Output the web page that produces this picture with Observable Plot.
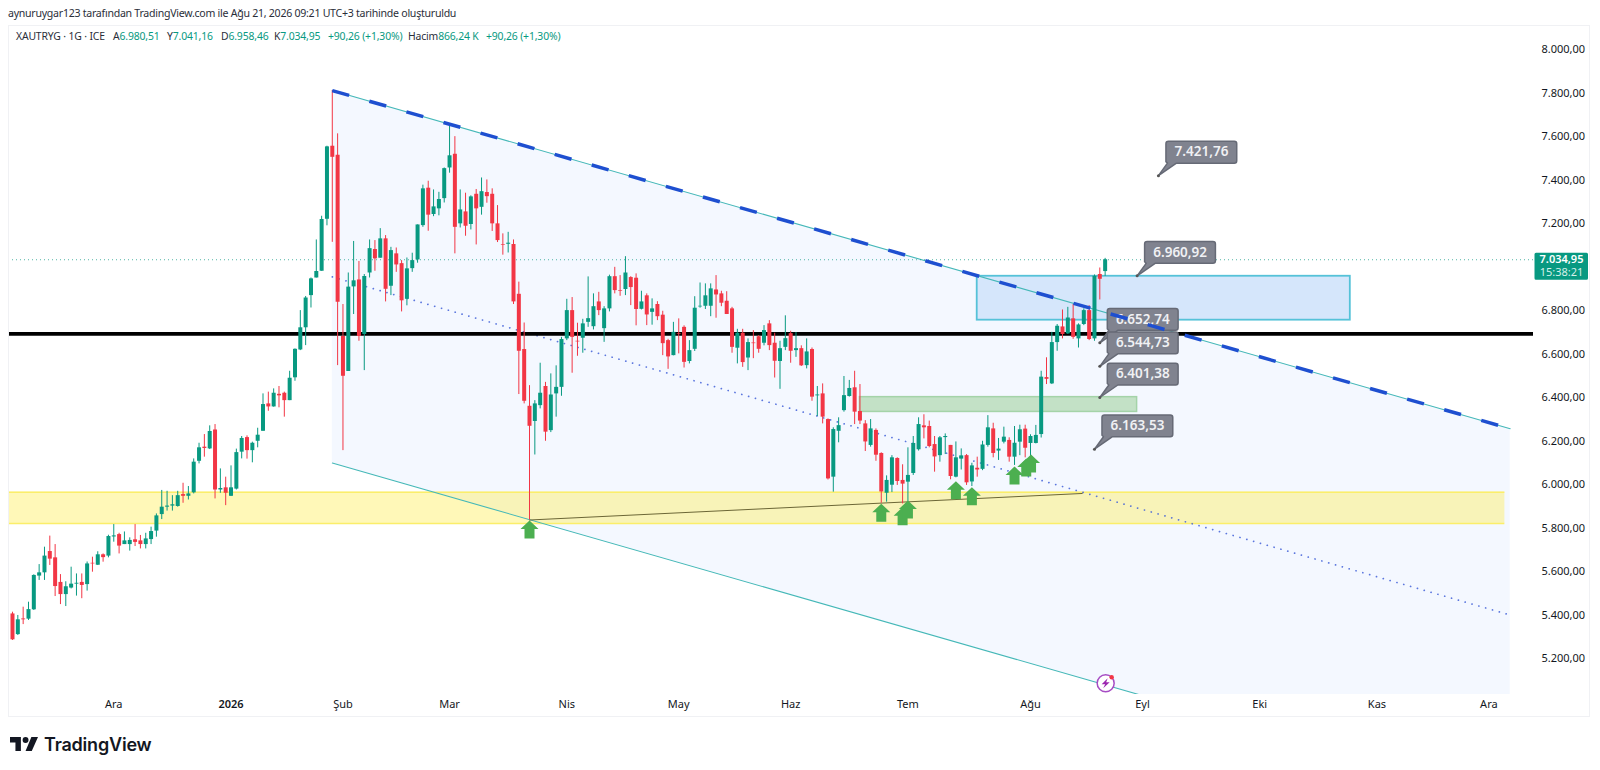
<!DOCTYPE html>
<html lang="tr">
<head>
<meta charset="utf-8">
<script src="https://cdn.jsdelivr.net/npm/d3@7"></script>
<script src="https://cdn.jsdelivr.net/npm/@observablehq/plot@0.6"></script>
<style>
html,body{margin:0;padding:0;background:#fff;overflow:hidden}
body{width:1600px;height:770px;position:relative;font-family:"Noto Sans",sans-serif;color:#131722}
#head{height:25px;font-size:10.6px;line-height:26px;padding-left:8px;color:#2a2e39;white-space:nowrap;letter-spacing:-.27px}
#legend{position:absolute;left:0;top:29px;font-size:10.4px;line-height:14px;white-space:nowrap;color:#2a2e39;z-index:2;letter-spacing:-.15px}
#legend b{font-weight:400;color:#089981}
#legend span{position:absolute;top:0}
#box{position:absolute;left:8px;top:25px;width:1582px;height:692px;border:1px solid #f0f1f4;box-sizing:border-box;pointer-events:none}
#foot{position:absolute;left:10px;top:733px;height:22px;display:flex;align-items:center;gap:6px}
#foot span{font-family:Inter,sans-serif;font-weight:600;font-size:18px;letter-spacing:-.2px;color:#131722}
svg{display:block}
</style>
</head>
<body>
<div id="head">aynuruygar123 tarafından TradingView.com ile Ağu 21, 2026 09:21 UTC+3 tarihinde oluşturuldu</div>
<div id="legend"><span style="left:16px">XAUTRYG · 1G · ICE</span><span style="left:113px">A<b>6.980,51</b></span><span style="left:167px">Y<b>7.041,16</b></span><span style="left:221px">D<b>6.958,46</b></span><span style="left:274px">K<b>7.034,95</b></span><span style="left:328px"><b>+90,26 (+1,30%)</b></span><span style="left:408px">Hacim<b>866,24 K</b></span><span style="left:486px"><b>+90,26 (+1,30%)</b></span></div>
<div id="chart"></div>
<div id="box"></div>
<div id="foot"><svg width="28" height="14" viewBox="0 0 36 18"><path fill="#131722" d="M14 0H0v7h7v11h7zM28 18h-8L27.500 0H36z"/><circle fill="#131722" cx="20" cy="3.800" r="3.800"/></svg><span>TradingView</span></div>
<script>
const opens=[5406,5311,5383,5382,5425,5580,5595,5693,5664,5551,5495,5525,5543,5551,5541,5639,5630,5678,5672,5760,
5771,5725,5725,5747,5742,5725,5748,5787,5863,5897,5902,5900,5955,5947,5963,6108,6173,6165,6252,5976,
5986,5947,5980,6150,6217,6157,6200,6246,6372,6358,6416,6421,6387,6492,6620,6722,6870,6951,6982,7221,
7557,7516,6682,6521,6910,6942,6691,6974,7082,7042,7131,6913,7062,7017,6853,6994,7034,7192,7364,7243,
7269,7316,7457,7520,7200,7255,7197,7336,7276,7344,7336,7200,7105,7106,7105,6876,6622,6361,6291,6364,
6452,6249,6418,6448,6671,6801,6660,6674,6747,6727,6841,6718,6809,6957,6893,6898,6953,6950,6807,6869,
6793,6829,6780,6663,6594,6694,6724,6567,6623,6818,6821,6821,6896,6878,6844,6809,6628,6697,6583,6652,
6681,6651,6740,6651,6567,6632,6695,6617,6626,6548,6622,6409,6418,6300,6035,6246,6341,6406,6446,6337,
6280,6181,6250,6144,5961,5998,6121,6020,6012,6052,6161,6271,6268,6185,6134,6217,6181,6035,6118,6134,
6013,6076,6071,6181,6257,6155,6196,6204,6127,6196,6256,6190,6190,6231,6493,6464,6654,6726,6694,6763,
6671,6737,6801,6671,6967,6980.51];
const highs=[5414,5399,5437,5460,5586,5633,5713,5764,5725,5587,5554,5621,5590,5590,5645,5667,5692,5682,5768,5817,
5777,5783,5756,5817,5767,5777,5805,5866,5974,5970,5950,5970,6007,5992,6119,6191,6231,6271,6277,6073,
6035,6087,6164,6222,6225,6196,6260,6418,6426,6441,6452,6426,6522,6625,6801,6866,6951,7126,7235,7557,
7813,7614,6829,6974,7119,7027,6967,7126,7123,7178,7146,7092,7089,7031,7043,7065,7195,7378,7396,7356,
7345,7457,7652,7601,7356,7341,7329,7358,7411,7402,7361,7284,7154,7161,7126,6932,6744,6456,6387,6559,
6471,6510,6547,6678,6853,6861,6743,6761,6956,6878,6885,6819,6964,7000,6962,7049,6957,6970,6890,6878,
6855,6842,6798,6669,6747,6763,6731,6663,6865,6928,6924,6924,6962,6890,6888,6816,6715,6715,6671,6709,
6686,6732,6755,6697,6660,6777,6706,6700,6639,6671,6629,6452,6464,6303,6262,6308,6498,6480,6522,6461,
6295,6300,6257,6147,6041,6134,6124,6092,6170,6222,6308,6322,6293,6222,6222,6234,6181,6197,6165,6139,
6099,6127,6200,6318,6283,6213,6265,6216,6268,6274,6274,6230,6273,6522,6584,6701,6737,6804,6816,6829,
6740,6809,6824,6965,6997,7041.16];
const lows=[5284,5307,5357,5376,5422,5560,5560,5629,5486,5449,5440,5521,5488,5476,5511,5598,5629,5644,5664,5736,
5682,5725,5695,5716,5705,5705,5725,5759,5840,5879,5879,5897,5915,5930,5958,6096,6127,6162,5935,5961,
5904,5946,5976,6119,6118,6101,6170,6246,6338,6357,6354,6311,6387,6476,6617,6640,6813,6951,6982,7191,
7115,6548,6157,6521,6783,6660,6525,6951,6982,7042,6841,6870,6977,6795,6823,6977,7019,7184,7166,7233,
7237,7296,7433,7062,7181,7143,7172,7103,7240,7295,7165,7114,7056,7066,6829,6415,6372,5838,6137,6349,
6200,6240,6311,6407,6663,6513,6591,6605,6724,6712,6778,6655,6795,6878,6867,6870,6824,6731,6804,6732,
6734,6755,6594,6531,6593,6602,6537,6556,6613,6812,6806,6773,6766,6819,6783,6605,6556,6540,6525,6580,
6605,6639,6617,6491,6439,6617,6559,6586,6544,6533,6384,6314,6280,6022,5966,6193,6334,6403,6277,6277,
6153,6173,6108,5915,5920,5964,5997,5912,5920,6043,6155,6211,6170,6058,6104,6139,6023,6032,6068,5997,
5992,6035,6065,6173,6124,6112,6188,6104,6089,6134,6124,6127,6188,6215,6461,6461,6614,6671,6691,6669,
6629,6732,6663,6660,6850,6958.46];
const closes=[5287,5379,5379,5426,5583,5595,5672,5658,5532,5495,5531,5543,5547,5537,5636,5636,5678,5665,5762,5765,
5718,5742,5744,5735,5725,5751,5785,5857,5897,5902,5908,5950,5947,5958,6104,6170,6167,6245,5976,5983,
5961,5986,6148,6213,6157,6191,6228,6369,6358,6421,6409,6387,6490,6623,6722,6859,6947,6981,7220,7554,
7506,6840,6499,6909,6938,6682,6958,7086,7039,7131,6899,7077,7011,6846,6993,7031,7195,7361,7240,7278,
7312,7454,7513,7184,7264,7189,7324,7269,7348,7325,7200,7123,7102,7111,6841,6614,6384,6269,6372,6421,
6242,6413,6448,6668,6801,6678,6657,6740,6764,6819,6801,6809,6957,6893,6890,6974,6907,6806,6841,6781,
6809,6773,6649,6588,6701,6691,6563,6617,6812,6821,6869,6901,6873,6835,6783,6632,6697,6562,6654,6649,
6623,6709,6640,6568,6626,6672,6614,6626,6547,6611,6403,6413,6311,6027,6254,6272,6410,6443,6334,6293,
6197,6257,6136,5967,6020,6124,6015,6003,6043,6190,6277,6262,6176,6128,6216,6222,6038,6124,6133,6009,
6087,6068,6183,6262,6144,6164,6219,6127,6191,6253,6168,6222,6227,6495,6485,6654,6729,6691,6767,6678,
6735,6801,6668,6959,6945,7034.95];

const priceTicks=[8000,7800,7600,7400,7200,6800,6600,6400,6200,6000,5800,5600,5400,5200];
const timeTickBars=[20,42,63,83,105,126,147,169,192,213,235,257,278];
const timeTickLabels=["Ara","2026","Şub","Mar","Nis","May","Haz","Tem","Ağu","Eyl","Eki","Kas","Ara"];

const channelBars=[61,282];
const channelTop=[7813,6258];
const channelBottom=[6100,4545];
const channelMid=[6956,5401];
const resistance=6694;
const yellowZone={bars:[0.25,281],prices:[5966,5822]};
const blueZone={bars:[182,252],prices:[6959,6757]};
const greenZone={bars:[160,212],prices:[6403,6335]};
const supportBars=[98,201.700];
const supportPrices=[5838,5960];
const arrowBars=[98,164,168,169,178,181,189,191.200,192.100];
const arrowPrices=[5836,5913,5897,5928,6016,5989,6084,6121,6139];
const calloutBars=[216,212,205,205,205,204];
const calloutPrices=[7421.76,6960.92,6652.74,6544.73,6401.38,6163.53];
const calloutLabels=["7.421,76","6.960,92","6.652,74","6.544,73","6.401,38","6.163,53"];
const lastClose=7034.95;
const lastLabels=["7.034,95","15:38:21"];
const iconBar=206.100, iconPrice=5087;

const GREEN="#089981",RED="#f23645",TEAL="#45b8b8",BLUE="#1e4fd0";
const xMin=0.25,xMax=286.37;

const bars=opens.map((o,k)=>({i:k+1,o,h:highs[k],l:lows[k],c:closes[k]}));
const ups=bars.filter(d=>d.c>=d.o), downs=bars.filter(d=>d.c<d.o);
const chan=channelBars.map((b,k)=>({i:b,top:channelTop[k],bot:channelBottom[k],mid:channelMid[k]}));
const arrows=arrowBars.map((b,k)=>({i:b,p:arrowPrices[k]}));
const callouts=calloutBars.map((b,k)=>({i:b,p:calloutPrices[k],t:calloutLabels[k]}));
const fmt=d3.formatLocale({decimal:",",thousands:".",grouping:[3],currency:["",""]}).format(",.2f");

const arrowSymbol={draw(c){c.moveTo(0,0);c.lineTo(9,8.500);c.lineTo(5,8.500);c.lineTo(5,18);c.lineTo(-5,18);c.lineTo(-5,8.500);c.lineTo(-9,8.500);c.closePath();}};
function roundRect(c,x0,y0,x1,y1,r,notch){
  c.moveTo(x0+r,y0);c.lineTo(x1-r,y0);c.arcTo(x1,y0,x1,y0+r,r);c.lineTo(x1,y1-r);c.arcTo(x1,y1,x1-r,y1,r);
  if(notch){c.lineTo(18,y1);c.lineTo(0,0);c.lineTo(x0+1.500,y1);c.lineTo(x0,y1-1.500);}else{c.lineTo(x0+r,y1);c.arcTo(x0,y1,x0,y1-r,r);}
  c.lineTo(x0,y0+r);c.arcTo(x0,y0,x0+r,y0,r);c.closePath();
}
const calloutSymbol={draw(c){roundRect(c,7.500,-34.300,78.300,-12.500,2.500,true);}};
const tagSymbol={draw(c){roundRect(c,1,-7,54.500,20,1.500,false);}};
const boltSymbol={draw(c){c.moveTo(2,-5);c.lineTo(-4,1);c.lineTo(-0.500,1);c.lineTo(-2.500,5);c.lineTo(4,-1);c.lineTo(0.500,-1);c.closePath();}};

const chart=Plot.plot({
  width:1600,height:692,marginTop:0,marginBottom:23,marginLeft:8,marginRight:67,
  style:{background:"transparent",fontFamily:'"Noto Sans",sans-serif',overflow:"visible"},
  x:{type:"linear",domain:[xMin,xMax]},
  y:{type:"linear",domain:[5035.500,8112.200]},
  marks:[
    Plot.areaY(chan,{x:"i",y1:"top",y2:"bot",fill:"#2979ff",fillOpacity:0.05,clip:true}),
    Plot.rect([0],{x1:()=>blueZone.bars[0],x2:()=>blueZone.bars[1],y1:()=>blueZone.prices[0],y2:()=>blueZone.prices[1],fill:"#d5e6fb",stroke:"#55c2d8",strokeWidth:1.800}),
    Plot.rect([0],{x1:()=>greenZone.bars[0],x2:()=>greenZone.bars[1],y1:()=>greenZone.prices[0],y2:()=>greenZone.prices[1],fill:"#c3e1c6",stroke:"#a4d3a8",strokeWidth:1.500}),
    Plot.rect([0],{x1:()=>yellowZone.bars[0],x2:()=>yellowZone.bars[1],y1:()=>yellowZone.prices[0],y2:()=>yellowZone.prices[1],fill:"#ffeb3b",fillOpacity:0.36}),
    Plot.ruleY(yellowZone.prices,{x1:()=>yellowZone.bars[0],x2:()=>yellowZone.bars[1],stroke:"#fbee6a",strokeWidth:1.500}),
    Plot.line(chan,{x:"i",y:"mid",stroke:"#3f5fd8",strokeWidth:1.700,strokeOpacity:0.85,strokeLinecap:"round",strokeDasharray:"0.1 7",clip:true}),
    Plot.line(chan,{x:"i",y:"bot",stroke:TEAL,strokeWidth:1.100,clip:true}),
    Plot.line(chan,{x:"i",y:"top",stroke:TEAL,strokeWidth:1.100}),
    Plot.ruleY([resistance],{stroke:"#000",strokeWidth:3.600}),
    Plot.ruleY([lastClose],{stroke:GREEN,strokeWidth:1,strokeOpacity:0.7,strokeDasharray:"1 3"}),
    Plot.line(supportBars.map((b,k)=>({b,p:supportPrices[k]})),{x:"b",y:"p",stroke:"#6b6636",strokeWidth:1}),
    Plot.ruleX(ups,{x:"i",y1:"l",y2:"h",stroke:GREEN,strokeWidth:1}),
    Plot.ruleX(ups,{x:"i",y1:"o",y2:"c",stroke:GREEN,strokeWidth:4}),
    Plot.ruleX(downs,{x:"i",y1:"l",y2:"h",stroke:RED,strokeWidth:1}),
    Plot.ruleX(downs,{x:"i",y1:"o",y2:"c",stroke:RED,strokeWidth:4}),
    Plot.dot(arrows,{x:"i",y:"p",symbol:arrowSymbol,r:9,fill:"#4caf50",stroke:"none"}),
    Plot.dot(callouts,{x:"i",y:"p",symbol:calloutSymbol,r:9,fill:"#80838f",stroke:"#666a76",strokeWidth:1.500,strokeLinejoin:"round"}),
    Plot.dot(callouts,{x:"i",y:"p",r:1.500,fill:"#555"}),
    Plot.text(callouts,{x:"i",y:"p",text:"t",dx:43,dy:-23.500,fill:"#f0f1f4",fontSize:13.500,fontWeight:600,textAnchor:"middle"}),
    Plot.line(chan,{x:"i",y:"top",stroke:BLUE,strokeWidth:3.500,strokeDasharray:"17.5 21.06",strokeLinecap:"butt"}),
    Plot.dot([iconPrice],{x:()=>iconBar,y:d=>d,r:8.500,fill:"#fff",stroke:"#a64cc4",strokeWidth:1.500}),
    Plot.dot([iconPrice],{x:()=>iconBar,y:d=>d,symbol:boltSymbol,r:5,fill:"#9c27b0",stroke:"none"}),
    Plot.dot([iconPrice],{x:()=>iconBar,y:d=>d,dx:6,dy:-6,r:2.200,fill:"#f23645"}),
    Plot.axisY({anchor:"right",ticks:priceTicks,tickFormat:fmt,tickSize:0,tickPadding:8,label:null,fontSize:11,color:"#131722"}),
    Plot.axisX({anchor:"bottom",ticks:timeTickBars,tickFormat:d=>timeTickLabels[timeTickBars.indexOf(d)],tickSize:0,tickPadding:6,label:null,fontSize:11,color:"#131722"}),
    Plot.dot([lastClose],{x:()=>xMax,y:d=>d,symbol:tagSymbol,r:9,fill:GREEN,stroke:"none"}),
    Plot.text(lastLabels,{filter:(d,k)=>k===0,x:()=>xMax,y:()=>lastClose,text:d=>d,dx:28,fill:"#fff",fontSize:11,fontWeight:600,textAnchor:"middle"}),
    Plot.text(lastLabels,{filter:(d,k)=>k===1,x:()=>xMax,y:()=>lastClose,text:d=>d,dx:28,dy:12.500,fill:"#d5f0ea",fontSize:11,textAnchor:"middle"})
  ]
});
document.getElementById("chart").appendChild(chart);
d3.select(chart).selectAll("text").filter(function(){return this.textContent==="2026"}).style("font-weight",600);
</script>
</body>
</html>
